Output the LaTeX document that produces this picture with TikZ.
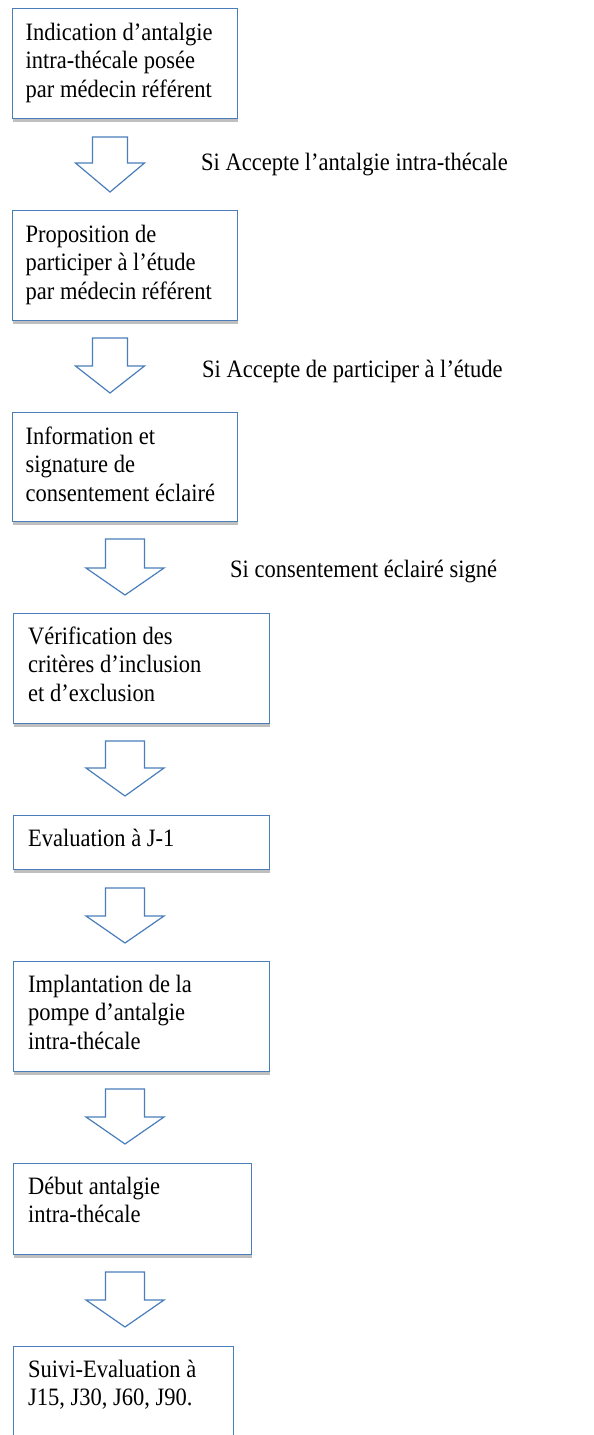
\documentclass[tikz,border=0pt]{standalone}
\usepackage{fontspec}
\setmainfont[FakeStretch=0.9]{Liberation Serif}
\usetikzlibrary{shadows}
\definecolor{officeblue}{RGB}{74,126,187}
\newcommand\stack[1]{\vtop{\baselineskip=28.5pt\lineskiplimit=-10pt\relax #1}}
\newcommand\blockarrow[6]{% cx, shaft half width, wing half width, top, wing y, tip y
  \draw[barrow] (#1-#2,#4) -- (#1+#2,#4) -- (#1+#2,#5) -- (#1+#3,#5) -- (#1,#6)
    -- (#1-#3,#5) -- (#1-#2,#5) -- cycle;}
\tikzset{
  box/.style={draw=officeblue, line width=1.2pt, fill=white, rectangle, inner sep=0pt,
    anchor=north west,
    drop shadow={shadow xshift=0.8pt, shadow yshift=-3pt, fill=black, opacity=0.25}},
  barrow/.style={draw=officeblue, line width=1.2pt, fill=white, line join=miter},
  txt/.style={anchor=base west, inner sep=0pt, font=\fontsize{25pt}{28.5pt}\selectfont},
}
\begin{document}
\begin{tikzpicture}[x=1pt,y=-1pt]
\useasboundingbox (0,0) rectangle (594,1435);
\clip (0,0) rectangle (594,1435);
\fill[white] (0,0) rectangle (594,1435);
% boxes
\node[box, minimum width=225, minimum height=110] (b1) at (12,8) {};
\node[box, minimum width=225, minimum height=110] (b2) at (12,210) {};
\node[box, minimum width=225, minimum height=109] (b3) at (12,412) {};
\node[box, minimum width=256, minimum height=110] (b4) at (13,613) {};
\node[box, minimum width=256, minimum height=54] (b5) at (13,815) {};
\node[box, minimum width=256, minimum height=110] (b6) at (13,961) {};
\node[box, minimum width=238, minimum height=91] (b7) at (13,1163) {};
\node[box, minimum width=220, minimum height=120] (b8) at (13,1346) {};
% texts
\node[txt] (t1) at (25.5,40) {\stack{\hbox{Indication d’antalgie}\hbox{intra-thécale posée}\hbox{par médecin référent}}};
\node[txt] (t2) at (25.5,242) {\stack{\hbox{Proposition de}\hbox{participer à l’étude}\hbox{par médecin référent}}};
\node[txt] (t3) at (25.5,444) {\stack{\hbox{Information et}\hbox{signature de}\hbox{consentement éclairé}}};
\node[txt] (t4) at (28,644) {\stack{\hbox{Vérification des}\hbox{critères d’inclusion}\hbox{et d’exclusion}}};
\node[txt] (t5) at (28,846) {\stack{\hbox{Evaluation à J-1}}};
\node[txt] (t6) at (28,992) {\stack{\hbox{Implantation de la}\hbox{pompe d’antalgie}\hbox{intra-thécale}}};
\node[txt] (t7) at (28,1194) {\stack{\hbox{Début antalgie}\hbox{intra-thécale}}};
\node[txt] (t8) at (28,1377) {\stack{\hbox{Suivi-Evaluation à}\hbox{J15, J30, J60, J90.}}};
% labels
\node[txt] (l1) at (201,170) {Si Accepte l’antalgie intra-thécale};
\node[txt] (l2) at (202,377) {Si Accepte de participer à l’étude};
\node[txt] (l3) at (230,577) {Si consentement éclairé signé};
% block arrows
\blockarrow{110}{17.5}{34.5}{137}{163}{192}
\blockarrow{110}{17.5}{34.5}{338}{366}{393}
\blockarrow{125}{19.5}{39}{539}{568}{595}
\blockarrow{125}{19.5}{39}{741}{768}{796}
\blockarrow{125}{19.5}{39}{888}{916}{943}
\blockarrow{125}{19.5}{39}{1089}{1117}{1144}
\blockarrow{125}{19.5}{39}{1272}{1300}{1327}
\end{tikzpicture}
\end{document}
